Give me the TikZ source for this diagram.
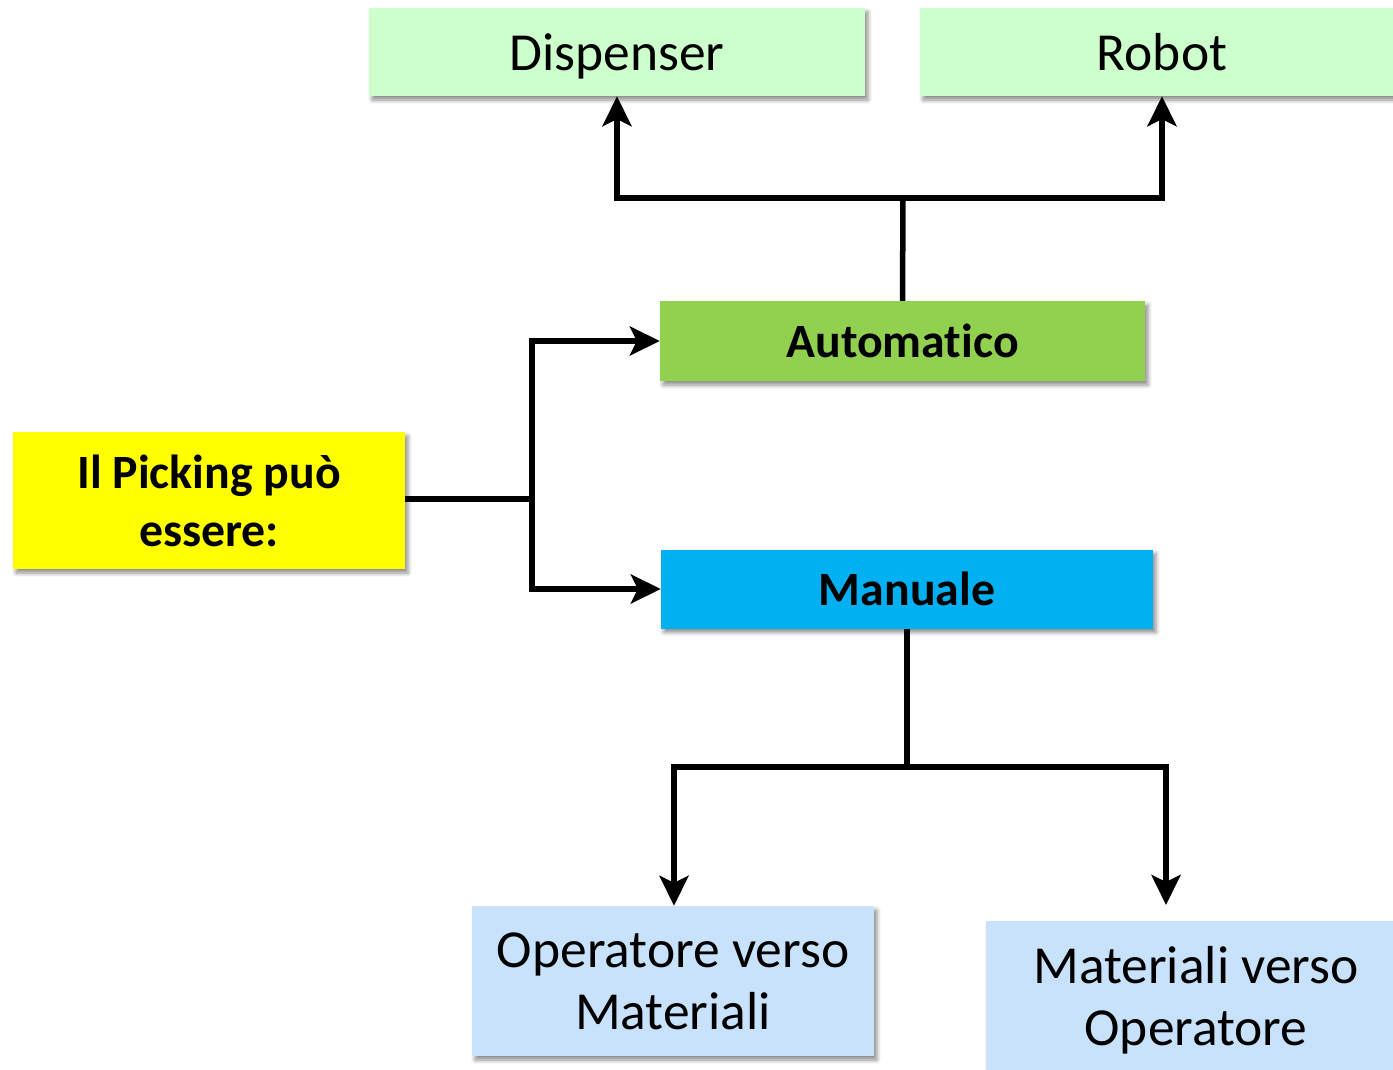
\documentclass[tikz,border=0pt]{standalone}
\usepackage{fontspec}
\setmainfont{Carlito}[RawFeature={-liga;-clig;-calt;-dlig}]
\usetikzlibrary{arrows.meta,shadows.blur}
\definecolor{lgreen}{HTML}{CCFFCC}
\definecolor{agreen}{HTML}{92D050}
\definecolor{mblue}{HTML}{00B0F0}
\definecolor{lblue}{HTML}{C8E2FC}
\definecolor{pyellow}{HTML}{FFFF00}
\tikzset{
  box/.style={rectangle, inner sep=0pt, align=center, text=black, text depth=0pt,
    blur shadow={shadow xshift=3pt, shadow yshift=-4pt, shadow blur radius=4pt, shadow opacity=45}},
  normaltext/.style={font=\fontsize{53.5}{62}\selectfont},
  boldtext/.style={font=\fontsize{47.8}{58}\selectfont\bfseries},
  conn/.style={line width=5.5pt, draw=black},
  arr/.style={conn, -{Stealth[length=30pt, width=29pt, inset=7pt]}}
}
\begin{document}
\begin{tikzpicture}[x=1pt, y=-1pt]
\useasboundingbox (0,0) rectangle (1393,1070);
\clip (0,0) rectangle (1393,1070);
% nodes
\node[box, normaltext, fill=lgreen, minimum width=496pt, minimum height=88pt] (disp) at (617,52) {Dispenser};
\node[box, normaltext, fill=lgreen, minimum width=484pt, minimum height=88pt] (robot) at (1162,52) {Robot};
\node[box, boldtext, fill=agreen, minimum width=485pt, minimum height=80pt] (auto) at (902.5,341) {Automatico};
\node[box, boldtext, fill=pyellow, minimum width=392pt, minimum height=137pt] (pick) at (209,500.5) {Il Picking può\\essere:};
\node[box, normaltext, fill=lblue, minimum width=402pt, minimum height=150pt] (op) at (673,981) {Operatore verso\\Materiali};
\node[box, boldtext, fill=mblue, minimum width=492pt, minimum height=79pt] (man) at (907,589) {Manuale};
\node[box, normaltext, fill=lblue, minimum width=420pt, minimum height=150pt] (mat) at (1196,996) {Materiali verso\\Operatore};
% junctions
\coordinate (ja) at (903,198);
\coordinate (jp) at (532,499);
\coordinate (jm) at (907,767);
\coordinate (matend) at (1166,905);
% connectors
\draw[conn] (auto.north) -- (ja);
\draw[arr] (ja) -| (disp.south);
\draw[arr] (ja) -| (robot.south);
\draw[conn] (pick.east |- jp) -- (jp);
\draw[arr] (jp) |- (auto.west);
\draw[arr] (jp) |- (man.west);
\draw[conn] (man.south) -- (jm);
\draw[arr] (jm) -| ([xshift=1pt]op.north);
\draw[arr] (jm) -| (matend);
\end{tikzpicture}
\end{document}
